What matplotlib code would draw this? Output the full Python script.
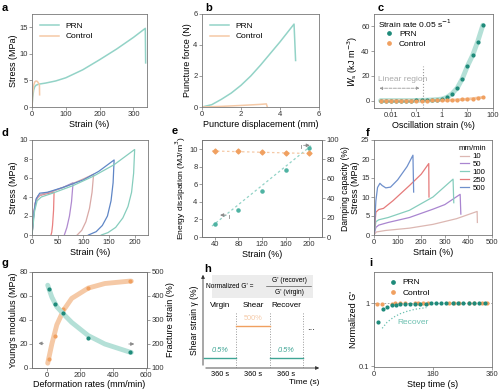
import numpy as np
import matplotlib.pyplot as plt
from matplotlib.lines import Line2D

W, H = 500, 389
plt.rcParams['font.family'] = ['Liberation Sans', 'DejaVu Sans']
plt.rcParams['font.size'] = 6
plt.rcParams['axes.linewidth'] = 0.6
plt.rcParams['axes.edgecolor'] = '#777777'
plt.rcParams['xtick.major.size'] = 2
plt.rcParams['ytick.major.size'] = 2
plt.rcParams['xtick.major.width'] = 0.5
plt.rcParams['ytick.major.width'] = 0.5
plt.rcParams['xtick.major.pad'] = 1.2
plt.rcParams['ytick.major.pad'] = 1.2
plt.rcParams['axes.labelpad'] = 1.0
plt.rcParams['axes.labelsize'] = 6.5

TEAL_L = '#93d3c7'
TEAL_B = '#b4e0d7'
TEAL_D = '#1e8a7a'
ORG_L = '#f5c9a6'
ORG_D = '#f0a060'
GRAY = '#999999'
TICK = 5.5

# ---- data ----
# a: tensile
a_prn_x = [0, 2, 5, 8, 12, 20, 40, 70, 100, 150, 200, 250, 300, 335, 336]
a_prn_y = [0, 1.8, 3.2, 3.8, 4.1, 4.3, 4.5, 4.9, 5.5, 7.0, 8.9, 10.9, 13.1, 14.8, 8.3]
a_ctl_x = [0, 2, 5, 8, 12, 16, 20, 22, 22.5]
a_ctl_y = [0, 2.6, 4.1, 4.7, 4.9, 4.8, 4.4, 4.1, 2.3]

# b: puncture
b_prn_x = [0, 0.5, 1, 1.5, 2, 2.5, 3, 3.5, 4, 4.5, 4.72, 4.8]
b_prn_y = [0, 0.15, 0.5, 0.9, 1.4, 2.0, 2.7, 3.45, 4.2, 5.0, 5.35, 3.0]
b_ctl_x = [0, 1, 2, 3, 3.3, 3.35]
b_ctl_y = [0, 0.04, 0.1, 0.17, 0.2, 0.0]

# c: oscillation
c_x = [0.004, 0.0063, 0.01, 0.016, 0.025, 0.04, 0.063, 0.1, 0.16, 0.25, 0.4,
       0.63, 1.0, 1.6, 2.5, 4.0, 6.3, 10, 16, 25, 40]
c_prn = [0, 0, 0, 0, 0, 0, 0, 0.1, 0.2, 0.3, 0.5, 0.8, 1.2, 2.7, 5.6, 10.2,
         17.7, 27.9, 36.7, 47.5, 60.9]
c_ctl = [0, 0, 0, 0, 0, 0, 0, 0, 0, 0, 0.1, 0.1, 0.2, 0.3, 0.4, 0.6, 0.9, 1.2,
         1.6, 2.1, 2.6]

# d: cyclic loops (strain, stress)
d_colors = ['#e98080', '#b08ad0', '#d9a9a6', '#5f86c6', '#86cdbd']
d_load_x = [[0, 3, 6, 10, 15, 25, 43],
            [0, 3, 7, 12, 20, 40, 60, 80],
            [0, 3, 7, 12, 20, 40, 70, 100, 120],
            [0, 4, 8, 15, 30, 60, 100, 130, 160],
            [0, 5, 10, 18, 40, 80, 120, 160, 200]]
d_load_y = [[0, 2.0, 3.3, 3.9, 4.15, 4.3, 4.5],
            [0, 2.0, 3.5, 4.1, 4.3, 4.6, 5.0, 5.5],
            [0, 2.0, 3.5, 4.1, 4.3, 4.6, 5.2, 5.9, 6.4],
            [0, 2.5, 3.8, 4.4, 4.5, 5.0, 5.8, 6.7, 7.9],
            [0, 2.5, 3.6, 4.0, 4.4, 5.2, 6.2, 7.4, 9.0]]
d_unload_x = [[43, 42, 40, 38.5, 37],
              [80, 77, 73, 68, 63],
              [120, 117, 112, 105, 97, 88],
              [160, 158, 154, 147, 137, 125, 110],
              [200, 198, 194, 187, 177, 163, 148, 135]]
d_unload_y = [[4.5, 2.6, 1.0, 0.3, 0],
              [5.5, 3.5, 2.0, 0.8, 0],
              [6.4, 4.5, 2.8, 1.4, 0.5, 0],
              [7.9, 5.5, 3.6, 2.0, 1.0, 0.35, 0],
              [9.0, 6.5, 4.5, 3.0, 1.8, 0.8, 0.25, 0]]

# e: energy dissipation / damping
e_strain = [40, 80, 120, 160, 200]
e_energy = [1.5, 3.1, 5.2, 7.7, 10.1]
e_damp = [88.5, 88.3, 87.8, 86.8, 86.3]

# f: rate dependence
f_rates = ['10', '50', '100', '250', '500']
f_colors = ['#dcb7b2', '#a985d0', '#86cdbd', '#e57a7a', '#6f90cc']
f_x = [[0, 10, 50, 150, 250, 350, 437, 438],
       [0, 8, 20, 60, 150, 250, 300, 365, 368],
       [0, 8, 20, 60, 150, 250, 335, 338],
       [0, 8, 20, 40, 80, 150, 200, 232, 233],
       [0, 8, 15, 25, 35, 50, 70, 100, 140, 165, 168]]
f_y = [[0, 0.8, 1.2, 1.8, 2.8, 4.3, 6.2, 3.3],
       [0, 2.0, 2.6, 3.3, 4.6, 6.8, 8.0, 10.7, 5.5],
       [0, 3.5, 4.0, 4.6, 6.5, 10.0, 14.7, 8.5],
       [0, 6.0, 6.7, 7.0, 9.0, 13.0, 16.0, 18.8, 10.0],
       [0, 9.0, 12.5, 13.6, 13.0, 12.4, 12.6, 14.5, 18.0, 21.0, 11.3]]

# g: rate vs modulus / fracture strain
g_rate = [10, 50, 100, 250, 500]
g_mod = [66, 53, 46, 25.3, 13.3]
g_frac = [136, 233, 344, 433, 461]
g_band_x = [5, 30, 60, 100, 150, 250, 350, 500, 510]
g_band_mod = [69, 59, 51, 45, 38, 27, 20, 13.3, 13]
g_band_frac = [120, 200, 280, 340, 390, 433, 452, 462, 462]

# i: recovery
i_prn_x = [12, 28, 40, 55, 68, 80, 95, 110, 125, 140, 160, 175, 190, 205, 220,
           240, 255, 270, 290, 305, 320, 340]
i_prn_y = [0.5, 0.82, 0.88, 0.93, 0.95, 0.96, 0.97, 0.97, 0.98, 0.98, 0.98,
           0.99, 0.99, 0.99, 1.0, 1.0, 1.0, 1.0, 1.0, 1.0, 1.0, 1.0]
i_ctl_x = [10, 25, 55, 65, 80, 95, 125, 135, 150, 165, 230, 245, 260, 290, 305,
           330, 345]
i_ctl_y = [0.96, 0.97, 0.98, 0.99, 0.99, 0.99, 0.99, 1.0, 1.0, 1.0, 1.0, 1.0,
           1.0, 1.0, 1.0, 1.0, 1.0]
i_rec_x = [25, 40, 60, 80, 100, 125, 160]
i_rec_y = [0.4, 0.5, 0.6, 0.68, 0.74, 0.8, 0.85]

fig = plt.figure(figsize=(W / 100, H / 100), dpi=100)


def box(l, t, r, b):
    ax = fig.add_axes([l / W, 1 - b / H, (r - l) / W, (b - t) / H])
    ax.tick_params(labelcolor='#333333', labelsize=TICK, color='#777777')
    return ax


def plabel(x, y, s):
    fig.text(x / W, 1 - y / H, s, fontsize=8, fontweight='bold', va='top')


def dotleg(ax, loc, **kw):
    h = [Line2D([], [], ls='none', marker='o', ms=2.4, color=TEAL_D, label='PRN'),
         Line2D([], [], ls='none', marker='o', ms=2.4, color=ORG_D, label='Control')]
    ax.legend(handles=h, loc=loc, frameon=False, fontsize=6, handletextpad=0.2,
              borderaxespad=0.4, labelspacing=0.3, **kw)


def arrow(ax, x0, y0, x1, y1):
    ax.annotate('', xy=(x1, y1), xytext=(x0, y0),
                arrowprops=dict(arrowstyle='-|>', color='#8a8a8a', lw=0.6,
                                mutation_scale=5))


# a
ax = box(32, 14, 147, 107)
ax.plot(a_prn_x, a_prn_y, color=TEAL_L, lw=1.1, label='PRN')
ax.plot(a_ctl_x, a_ctl_y, color=ORG_L, lw=1.1, label='Control')
ax.set_xlim(0, 340)
ax.set_ylim(0, 17.5)
ax.set_xticks([0, 100, 200, 300])
ax.set_yticks([0, 5, 10, 15])
ax.set_xlabel('Strain (%)')
ax.set_ylabel('Stress (MPa)')
ax.legend(loc='upper left', frameon=False, fontsize=6, handlelength=2.2,
          labelspacing=0.3, borderaxespad=0.6)

# b
ax = box(202, 14, 319, 107)
ax.plot(b_prn_x, b_prn_y, color=TEAL_L, lw=1.1, label='PRN')
ax.plot(b_ctl_x, b_ctl_y, color=ORG_L, lw=1.1, label='Control')
ax.set_xlim(0, 6)
ax.set_ylim(0, 6)
ax.set_xticks([0, 2, 4, 6])
ax.set_yticks([0, 2, 4, 6])
ax.set_xlabel('Puncture displacement (mm)')
ax.set_ylabel('Puncture force (N)')
ax.legend(loc='upper left', frameon=False, fontsize=6, handlelength=2.2,
          labelspacing=0.3, borderaxespad=0.6)

# c
ax = box(374, 14, 493, 108)
ax.set_xscale('log')
ax.plot(c_x, c_prn, color=TEAL_B, lw=3.5, solid_capstyle='round', zorder=1)
ax.plot(c_x, c_ctl, color=ORG_L, lw=2, solid_capstyle='round', zorder=1)
ax.scatter(c_x, c_prn, s=4, color=TEAL_D, zorder=3)
ax.scatter(c_x, c_ctl, s=4, color=ORG_D, zorder=3)
ax.set_xlim(0.0022, 100)
ax.set_ylim(-6, 70)
ax.set_xticks([0.01, 0.1, 1, 10, 100])
ax.set_xticklabels(['0.01', '0.1', '1', '10', '100'])
ax.minorticks_off()
ax.set_yticks([0, 20, 40, 60])
ax.set_xlabel('Oscillation strain (%)')
ax.set_ylabel('$W_{\\rm s}$ (kJ m$^{-3}$)')
ax.plot([0.19, 0.19], [-6, 28], ls=':', color=GRAY, lw=0.8)
ax.annotate('', xy=(0.0028, 10), xytext=(0.17, 10),
            arrowprops=dict(arrowstyle='<|-|>', ls='--', color=GRAY, lw=0.6,
                            mutation_scale=4))
ax.text(0.0033, 17, 'Linear region', color='#aaaaaa', fontsize=6, va='center')
ax.text(0.0033, 62, 'Strain rate 0.05 s$^{-1}$', fontsize=6, va='center')
dotleg(ax, 'upper left', bbox_to_anchor=(0.0, 0.9))

# d
ax = box(32, 140, 148, 235)
for lx, ly, ux, uy, c in zip(d_load_x, d_load_y, d_unload_x, d_unload_y, d_colors):
    ax.plot(lx + ux, ly + uy, color=c, lw=0.9)
ax.set_xlim(0, 226)
ax.set_ylim(0, 10)
ax.set_xticks([0, 50, 100, 150, 200])
ax.set_yticks([0, 2, 4, 6, 8, 10])
ax.set_xlabel('Strain (%)')
ax.set_ylabel('Stress (MPa)')

# e
ax = box(202, 140, 322, 237)
ax.plot([35, 205], [1.25, 10.5], ls=(0, (2, 2)), color=TEAL_L, lw=0.9)
ax.scatter(e_strain, e_energy, s=5, color='#4fb3a3', zorder=3)
ax.set_xlim(18, 222)
ax.set_ylim(0, 11.07)
ax.set_xticks([40, 80, 120, 160, 200])
ax.set_yticks([0, 2, 4, 6, 8, 10])
ax.set_xlabel('Strain (%)')
ax.set_ylabel('Energy dissipation (MJ/m$^3$)', fontsize=6.1)
arrow(ax, 64, 2.5, 44, 2.5)
ax.plot([64, 64], [2.5, 2.2], color='#8a8a8a', lw=0.6)
ax2 = ax.twinx()
ax2.plot([35, 205], [88.7, 86], ls=(0, (2, 2)), color=ORG_L, lw=0.9)
ax2.scatter(e_strain, e_damp, s=6, color=ORG_D, marker='D', zorder=3)
ax2.set_ylim(0, 100)
ax2.set_yticks([0, 20, 40, 60, 80, 100])
ax2.tick_params(labelsize=TICK, labelcolor='#333333', color='#777777')
ax2.set_ylabel('Damping capacity (%)', labelpad=1.5, fontsize=6.2)
arrow(ax2, 186, 94.5, 206, 94.5)
ax2.plot([186, 186], [94.5, 91.5], color='#8a8a8a', lw=0.6)

# f
ax = box(374, 140, 492, 235)
for x, y, c, r in zip(f_x, f_y, f_colors, f_rates):
    ax.plot(x, y, color=c, lw=0.9, label=r)
ax.set_xlim(0, 500)
ax.set_ylim(0, 25)
ax.set_xticks([0, 100, 200, 300, 400, 500])
ax.set_yticks([0, 5, 10, 15, 20, 25])
ax.set_xlabel('Srtain (%)')
ax.set_ylabel('Stress (MPa)', labelpad=0.5)
ax.legend(title='mm/min', loc='upper right', frameon=False, fontsize=5.6,
          title_fontsize=5.6, handlelength=1.2, handletextpad=0.4,
          labelspacing=0.05, borderaxespad=0.3)

# g
ax = box(32, 272, 147, 368)
ax.plot(g_band_x, g_band_mod, color=TEAL_B, lw=3.5, solid_capstyle='round', zorder=1)
ax.scatter(g_rate, g_mod, s=4, color=TEAL_D, zorder=4)
ax.set_xlim(-90, 605)
ax.set_ylim(0, 80)
ax.set_xticks([0, 200, 400, 600])
ax.set_yticks([0, 20, 40, 60, 80])
ax.set_xlabel('Deformation rates (mm/min)', labelpad=0.5)
ax.set_ylabel("Young's modulus (MPa)")
arrow(ax, -5, 20.5, -68, 20.5)
ax2 = ax.twinx()
ax2.plot(g_band_x, g_band_frac, color=ORG_L, lw=3.5, solid_capstyle='round', zorder=1)
ax2.scatter(g_rate, g_frac, s=4, color=ORG_D, zorder=4)
ax2.set_ylim(100, 500)
ax2.set_yticks([100, 200, 300, 400, 500])
ax2.tick_params(labelsize=TICK, labelcolor='#333333', color='#777777')
ax2.set_ylabel('Fracture strain (%)', labelpad=1.5)
arrow(ax2, 478, 200, 545, 200)
ax.set_zorder(ax2.get_zorder() + 1)
ax.patch.set_visible(False)

# h (schematic)
ax = box(203, 272, 322, 368)
ax.set_xlim(0, 3.57)
ax.set_ylim(0, 1)
for s in ax.spines.values():
    s.set_visible(False)
ax.set_xticks([])
ax.set_yticks([])
ax.annotate('', xy=(3.57, 0), xytext=(0, 0),
            arrowprops=dict(arrowstyle='-|>', color='#333333', lw=0.6, mutation_scale=5),
            annotation_clip=False)
ax.annotate('', xy=(0, 1), xytext=(0, 0),
            arrowprops=dict(arrowstyle='-|>', color='#333333', lw=0.6, mutation_scale=5),
            annotation_clip=False)
for xv in [1, 2, 3]:
    ax.plot([xv, xv], [0, 0.58], ls=':', color=GRAY, lw=0.7)
ax.plot([0.02, 1], [0.104, 0.104], color='#3fa595', lw=1)
ax.plot([2, 3], [0.104, 0.104], color='#3fa595', lw=1)
ax.plot([1, 2], [0.44, 0.44], color=ORG_D, lw=1)
ax.text(0.5, 0.17, '0.5%', color='#3fa595', style='italic', ha='center', fontsize=5.3)
ax.text(2.5, 0.17, '0.5%', color='#3fa595', style='italic', ha='center', fontsize=5.3)
ax.text(1.5, 0.5, '500%', color=ORG_L, ha='center', fontsize=5.3)
for xv, t in zip([0.5, 1.5, 2.5], ['Virgin', 'Shear', 'Recover']):
    ax.text(xv, 0.64, t, ha='center', fontsize=5.8)
    ax.text(xv, -0.065, '360 s', ha='center', va='center', fontsize=5.3)
ax.text(3.25, 0.4, '...', fontsize=7, ha='center')
ax.text(3.05, -0.155, 'Time (s)', ha='center', va='center', fontsize=6)
ax.add_patch(plt.Rectangle((0.27, 0.73), 3.03, 0.24, color='#ececec', lw=0))
ax.text(1.5, 0.85, "Normalized G' =", ha='right', va='center', fontsize=4.8)
ax.text(2.58, 0.91, "G' (recover)", ha='center', va='center', fontsize=4.8)
ax.text(2.58, 0.785, "G' (virgin)", ha='center', va='center', fontsize=4.8)
ax.plot([1.9, 3.25], [0.85, 0.85], color='#333333', lw=0.4)
ax.set_ylabel('Shear strain γ (%)', labelpad=3, fontsize=6.2)

# i
ax = box(374, 272, 492, 367)
ax.set_yscale('log')
ax.axhline(1, ls=(0, (2, 2)), color=GRAY, lw=0.6, zorder=1)
ax.plot(i_rec_x, i_rec_y, ls=':', color='#6cc0b0', lw=0.9)
ax.scatter(i_ctl_x, i_ctl_y, s=4, color=ORG_D, zorder=3)
ax.scatter(i_prn_x, i_prn_y, s=4, color=TEAL_D, zorder=4)
ax.text(72, 0.5, 'Recover', color='#6cc0b0', fontsize=6, va='center')
ax.set_xlim(0, 360)
ax.set_ylim(0.098, 3.1)
ax.set_xticks([0, 180, 360])
ax.set_yticks([0.1, 1])
ax.set_yticklabels(['0.1', '1'])
ax.minorticks_off()
ax.set_xlabel('Step time (s)')
ax.set_ylabel("Normalized G'")
dotleg(ax, 'upper left', bbox_to_anchor=(0.03, 1.0))

plabel(2, 3, 'a')
plabel(205, 3, 'b')
plabel(378, 3, 'c')
plabel(2, 128, 'd')
plabel(172, 126, 'e')
plabel(366, 128, 'f')
plabel(2, 258, 'g')
plabel(204, 264, 'h')
plabel(369, 258, 'i')

fig.savefig('out.png', dpi=100)
